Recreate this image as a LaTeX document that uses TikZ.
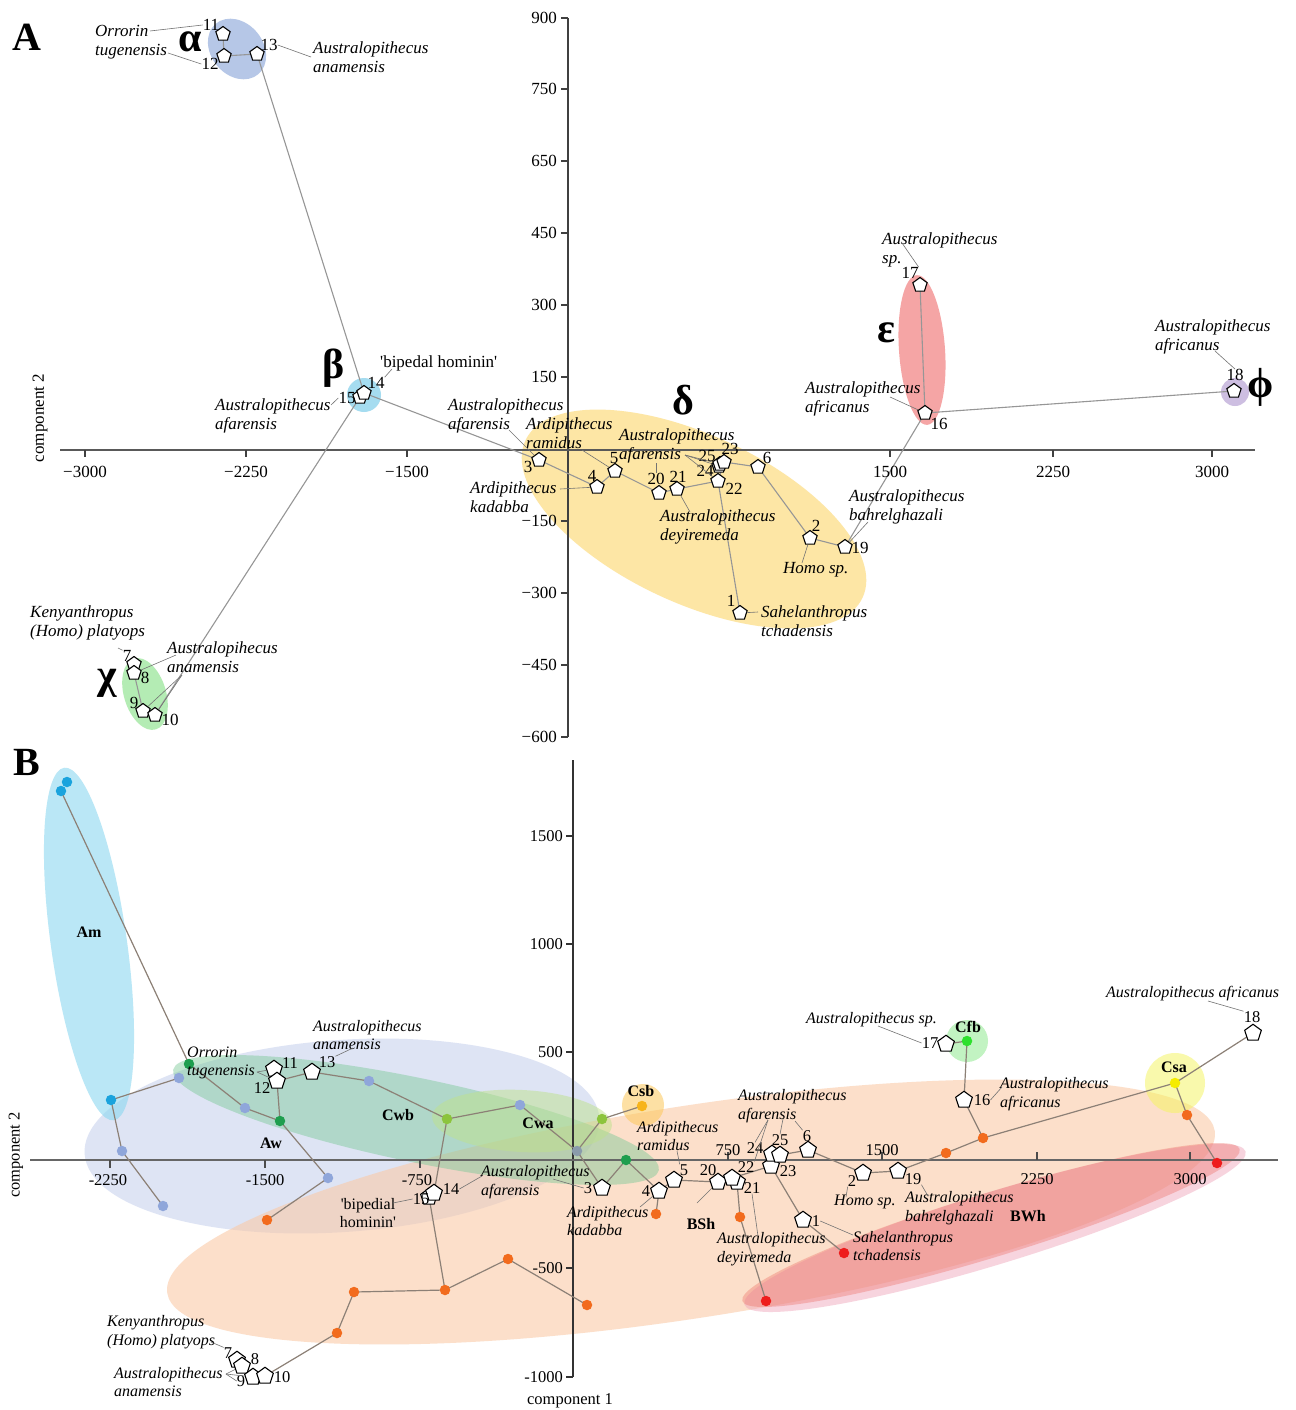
\documentclass[tikz,border=0pt]{standalone}
\usepackage{fontspec}
\setmainfont{Liberation Serif}
\newfontfamily\qfont{Liberation Serif}[Ligatures=TeXOff]
\usetikzlibrary{shapes.geometric}
\pgfdeclarelayer{ell}
\pgfdeclarelayer{bg}
\pgfsetlayers{ell,bg,main}
\definecolor{cAlpha}{RGB}{182,199,231}
\definecolor{cBeta}{RGB}{165,220,240}
\definecolor{cDelta}{RGB}{253,230,165}
\definecolor{cEps}{RGB}{245,165,165}
\definecolor{cPhi}{RGB}{205,190,225}
\definecolor{cChi}{RGB}{180,236,180}
\definecolor{eAm}{RGB}{140,215,240}
\definecolor{eAw}{RGB}{200,210,238}
\definecolor{eBSh}{RGB}{250,202,168}
\definecolor{eCwb}{RGB}{120,200,150}
\definecolor{eCwa}{RGB}{190,225,140}
\definecolor{eCsb}{RGB}{252,200,90}
\definecolor{eBWh}{RGB}{235,95,85}
\definecolor{ePink}{RGB}{240,170,190}
\definecolor{eCfb}{RGB}{120,230,120}
\definecolor{eCsa}{RGB}{245,245,90}
\definecolor{dAm}{RGB}{26,163,221}
\definecolor{dAw}{RGB}{143,166,218}
\definecolor{dG}{RGB}{30,158,78}
\definecolor{dLG}{RGB}{140,196,60}
\definecolor{dGr}{RGB}{138,155,171}
\definecolor{dCsb}{RGB}{247,180,27}
\definecolor{dO}{RGB}{242,107,29}
\definecolor{dR}{RGB}{238,28,28}
\definecolor{dCfb}{RGB}{46,224,46}
\definecolor{dCsa}{RGB}{245,236,0}
\definecolor{edgeA}{RGB}{150,150,150}
\definecolor{edgeB}{RGB}{140,128,118}
\newcommand{\sq}{{\qfont '}}
\begin{document}
\begin{tikzpicture}[x=1pt,y=-1pt,
  pA/.style={regular polygon, regular polygon sides=5, draw=black, fill=white, line width=1.1pt, minimum size=15pt, inner sep=0pt},
  pB/.style={pA, minimum size=17.5pt},
  dot/.style={circle, inner sep=0pt, minimum size=10.5pt},
  labA/.style={font=\fontsize{17}{19.5}\selectfont\itshape, align=left, inner sep=0pt, anchor=west},
  labB/.style={font=\fontsize{16}{18.5}\selectfont\itshape, align=left, inner sep=0pt, anchor=west},
  numA/.style={font=\fontsize{17}{17}\selectfont, inner sep=0pt},
  numB/.style={font=\fontsize{16.5}{16.5}\selectfont, inner sep=0pt},
  grk/.style={font=\fontsize{42}{42}\selectfont\bfseries, inner sep=0pt},
  grp/.style={font=\fontsize{16}{16}\selectfont\bfseries, inner sep=0pt},
  edA/.style={draw=edgeA, line width=1.1pt},
  edB/.style={draw=edgeB, line width=1.2pt},
  lead/.style={draw=black!55, line width=0.6pt},
  axA/.style={draw=black!75, line width=1.3pt},
  eo/.style={fill opacity=0.6}
]
\useasboundingbox (0,0) rectangle (1295,1410);

% ================= ellipses =================
\begin{pgfonlayer}{ell}
\fill[white] (0,0) rectangle (1295,1410);
% panel A
\fill[cAlpha, rotate around={-50:(237,49)}] (237,49) ellipse [x radius=33, y radius=26];
\fill[cBeta] (364,395) circle [radius=17];
\fill[cDelta, rotate around={-25:(694,519)}] (694,519) ellipse [x radius=186, y radius=84];
\fill[cEps, rotate around={4:(922,350)}] (922,350) ellipse [x radius=23, y radius=75];
\fill[cPhi] (1235,392) circle [radius=14];
\fill[cChi, rotate around={-73:(145,694)}] (145,694) ellipse [x radius=37, y radius=21];
% panel B
\fill[eAw, eo, rotate around={4:(342,1136)}] (342,1136) ellipse [x radius=258, y radius=96];
\fill[eAm, eo, rotate around={8:(89,944)}] (89,944) ellipse [x radius=38, y radius=178];
\fill[eBSh, eo, rotate around={8.8:(691,1212)}] (691,1212) ellipse [x radius=530, y radius=106];
\fill[eCwb, fill opacity=0.45, rotate around={-11.7:(416,1120)}] (416,1120) ellipse [x radius=248, y radius=42];
\fill[eCwa, fill opacity=0.5, rotate around={-3:(522,1121)}] (522,1121) ellipse [x radius=90, y radius=31];
\fill[eCsb, fill opacity=0.55] (643,1105) circle [radius=21];
\fill[ePink, fill opacity=0.5, rotate around={17:(995,1228)}] (995,1228) ellipse [x radius=262, y radius=36];
\fill[eBWh, fill opacity=0.32, rotate around={17:(991,1225)}] (991,1225) ellipse [x radius=260, y radius=32];
\fill[eCfb, fill opacity=0.45] (967,1041) circle [radius=21];
\fill[eCsa, fill opacity=0.5] (1175,1083) circle [radius=30];
\end{pgfonlayer}

% ================= panel A =================
\node[font=\fontsize{40}{40}\selectfont\bfseries, inner sep=0pt] (LA) at (27,37) {A};
\begin{pgfonlayer}{bg}
\draw[axA] (568,18) -- (568,737);
\draw[draw=black!65, line width=1.8pt] (60,450) -- (1255,450);
\foreach \v/\yy in {900/18, 750/89, 650/161, 450/233, 300/305, 150/377, −150/521, −300/593, −450/665, −600/737}{
  \draw[axA] (561,\yy) -- (568,\yy);
}
\foreach \v/\xx in {−3000/85, −2250/246, −1500/407, 1500/890, 2250/1053, 3000/1212}{
  \draw[axA] (\xx,450) -- (\xx,457);
}
\end{pgfonlayer}
\foreach \v/\yy in {900/18, 750/89, 650/161, 450/233, 300/305, 150/377, −150/521, −300/593, −450/665, −600/737}{
  \node[numA, anchor=east] (tya\yy) at (557,\yy) {\v};
}
\foreach \v/\xx in {−3000/85, −2250/246, −1500/407, 1500/890, 2250/1053, 3000/1212}{
  \node[numA] (txa\xx) at (\xx,472) {\v};
}
\node[numA, rotate=90] (c2A) at (40,418) {component 2};

% greek labels
\node[grk] (gAlpha) at (190,42) {α};
\node[grk] (gBeta) at (334,368) {β};
\node[grk] (gDelta) at (683,400) {δ};
\node[grk] (gEps) at (886,333) {ε};
\node[grk] (gPhi) at (1261,387) {ϕ};
\node[grk] (gChi) at (107,683) {χ};

% pentagons A
\node[pA] (a11) at (223,34) {};
\node[pA] (a12) at (224,56) {};
\node[pA] (a13) at (257,54) {};
\node[pA] (a15) at (360,397) {};
\node[pA] (a14) at (364,393) {};
\node[pA] (a3) at (539,460) {};
\node[pA] (a4) at (597,487) {};
\node[pA] (a5) at (615,471) {};
\node[pA] (a20) at (659,493) {};
\node[pA] (a21) at (677,489) {};
\node[pA] (a22) at (718,481) {};
\node[pA] (a24) at (719,466) {};
\node[pA] (a25) at (720,464) {};
\node[pA] (a23) at (724,462) {};
\node[pA] (a6) at (758,467) {};
\node[pA] (a2) at (810,538) {};
\node[pA] (a19) at (845,547) {};
\node[pA] (a1) at (740,613) {};
\node[pA] (a16) at (925,413) {};
\node[pA] (a17) at (920,285) {};
\node[pA] (a18) at (1234,391) {};
\node[pA] (a7) at (134,664) {};
\node[pA] (a8) at (134,673) {};
\node[pA] (a9) at (143,711) {};
\node[pA] (a10) at (155,715) {};

\begin{pgfonlayer}{bg}
\draw[edA] (a11.center) -- (a12.center) -- (a13.center) -- (a14.center) -- (a3.center) -- (a4.center) -- (a5.center) -- (a20.center) -- (a21.center) -- (a22.center) -- (a23.center) -- (a6.center) -- (a2.center) -- (a19.center) -- (a16.center) -- (a17.center);
\draw[edA] (a16.center) -- (a18.center);
\draw[edA] (a22.center) -- (a1.center);
\draw[edA] (a15.center) -- (a10.center);
\draw[edA] (a8.center) -- (a9.center) -- (a10.center);
\end{pgfonlayer}

% numbers A
\node[numA] (n11) at (211,25) {11};
\node[numA] (n12) at (210,64) {12};
\node[numA] (n13) at (269,45) {13};
\node[numA] (n14) at (376,383) {14};
\node[numA] (n15) at (347,398) {15};
\node[numA] (n3) at (528,467) {3};
\node[numA] (n4) at (592,476) {4};
\node[numA] (n5) at (614,458) {5};
\node[numA] (n20) at (656,479) {20};
\node[numA] (n21) at (678,477) {21};
\node[numA] (n25) at (707,456) {25};
\node[numA] (n23) at (730,449) {23};
\node[numA] (n24) at (705,471) {24};
\node[numA] (n22) at (734,489) {22};
\node[numA] (n6) at (767,458) {6};
\node[numA] (n2) at (816,526) {2};
\node[numA] (n19) at (860,548) {19};
\node[numA] (n1) at (731,601) {1};
\node[numA] (n17) at (910,273) {17};
\node[numA] (n16) at (939,424) {16};
\node[numA] (n18) at (1235,375) {18};
\node[numA] (n7) at (127,656) {7};
\node[numA] (n8) at (145,678) {8};
\node[numA] (n9) at (134,703) {9};
\node[numA] (n10) at (170,720) {10};

% texts A
\node[labA] (tA1) at (95,42) {Orrorin\\tugenensis};
\node[labA] (tA2) at (313,57) {Australopithecus\\anamensis};
\node[numA, anchor=west] (tA3) at (380,363) {\sq bipedal hominin\sq};
\node[labA] (tA4) at (215,416) {Australopithecus\\afarensis};
\node[labA] (tA5) at (448,416) {Australopithecus\\afarensis};
\node[labA] (tA6) at (526,433) {Ardipithecus\\ramidus};
\node[labA] (tA7) at (470,497) {Ardipithecus\\kadabba};
\node[labA] (tA8) at (619,446) {Australopithecus\\afarensis};
\node[labA] (tA9) at (660,527) {Australopithecus\\deyiremeda};
\node[labA] (tA10) at (783,570) {Homo sp.};
\node[labA] (tA11) at (761,621) {Sahelanthropus\\tchadensis};
\node[labA] (tA12) at (849,507) {Australopithecus\\bahrelghazali};
\node[labA] (tA13) at (882,250) {Australopithecus\\sp.};
\node[labA] (tA14) at (805,399) {Australopithecus\\africanus};
\node[labA] (tA15) at (1155,337) {Australopithecus\\africanus};
\node[labA] (tA16) at (30,623) {Kenyanthropus\\(Homo) platyops};
\node[labA] (tA17) at (167,657) {Australopihecus\\anamensis};

% leader lines A
\path (150,31) coordinate (k1) (168,53) coordinate (k2) (311,57) coordinate (k3)
      (331,405) coordinate (k4) (392,369) coordinate (k5) (509,430) coordinate (k6)
      (582,450) coordinate (k7) (560,489) coordinate (k8) (685,455) coordinate (k9)
      (656,463) coordinate (k10) (690,512) coordinate (k11) (802,563) coordinate (k12)
      (758,612) coordinate (k13) (868,522) coordinate (k14) (902,243) coordinate (k15)
      (890,397) coordinate (k16) (1215,351) coordinate (k17) (118,648) coordinate (k18)
      (176,655) coordinate (k19) (182,675) coordinate (k20);
\draw[lead] (k1) -- (n11.west);
\draw[lead] (k2) -- (n12.west);
\draw[lead] (n13.east) -- (k3);
\draw[lead] (n15.west) -- (k4);
\draw[lead] (n14.north east) -- (k5);
\draw[lead] (k6) -- (a3);
\draw[lead] (k7) -- (a5);
\draw[lead] (k8) -- (a4);
\draw[lead] (k9) -- (a25);
\draw[lead] (k9) -- (a24);
\draw[lead] (k9) -- (a22);
\draw[lead] (k10) -- (n20.north);
\draw[lead] (a21) -- (k11);
\draw[lead] (a2) -- (k12);
\draw[lead] (a1) -- (k13);
\draw[lead] (a19) -- (k14);
\draw[lead] (k15) -- (n17.north east);
\draw[lead] (k16) -- (a16);
\draw[lead] (k17) -- (n18.north);
\draw[lead] (k18) -- (n7.north west);
\draw[lead] (k19) -- (a8);
\draw[lead] (k20) -- (a9);
\draw[lead] (k20) -- (a10);

% ================= panel B =================
\node[font=\fontsize{40}{40}\selectfont\bfseries, inner sep=0pt] (LB) at (27,762) {B};
\begin{pgfonlayer}{bg}
\draw[draw=black!80, line width=1.5pt] (573,760) -- (573,1377);
\draw[draw=black!60, line width=2pt] (30,1160) -- (1278,1160);
\foreach \v/\yy in {1500/836, 1000/944, 500/1052, -500/1268, -1000/1377}{
  \draw[draw=black!80, line width=1.3pt] (566,\yy) -- (573,\yy);
}
\foreach \xx in {110, 265, 420}{
  \draw[draw=black!70, line width=1.3pt] (\xx,1160) -- (\xx,1168);
}
\foreach \xx in {728, 882, 1037, 1190}{
  \draw[draw=black!70, line width=1.3pt] (\xx,1152) -- (\xx,1160);
}
\end{pgfonlayer}
\foreach \v/\yy in {1500/836, 1000/944, 500/1052, -500/1268, -1000/1377}{
  \node[numB, anchor=east] (tyb\yy) at (563,\yy) {\v};
}
\foreach \v/\xx/\yy in {-2250/108/1180, -1500/265/1180, -750/417/1180, 750/728/1150, 1500/882/1150, 2250/1037/1179, 3000/1190/1179}{
  \node[numB] (txb\xx) at (\xx,\yy) {\v};
}
\node[numB, rotate=90] (c2B) at (16,1155) {component 2};
\node[numB] (c1B) at (570,1401) {component 1};

% group labels
\node[grp] (gAm) at (89,932) {Am};
\node[grp] (gAw) at (271,1143) {Aw};
\node[grp] (gCwb) at (398,1115) {Cwb};
\node[grp] (gCwa) at (538,1123) {Cwa};
\node[grp] (gCsb) at (641,1091) {Csb};
\node[grp] (gBSh) at (701,1224) {BSh};
\node[grp] (gBWh) at (1028,1216) {BWh};
\node[grp] (gCfb) at (968,1027) {Cfb};
\node[grp] (gCsa) at (1174,1067) {Csa};

% dots
\node[dot, fill=dAm] (am1) at (67,782) {};
\node[dot, fill=dAm] (am2) at (61,791) {};
\node[dot, fill=dAm] (am3) at (111,1100) {};
\node[dot, fill=dAw] (aw1) at (179,1078) {};
\node[dot, fill=dAw] (aw2) at (245,1108) {};
\node[dot, fill=dAw] (aw3) at (122,1151) {};
\node[dot, fill=dAw] (aw4) at (163,1206) {};
\node[dot, fill=dAw] (aw5) at (328,1178) {};
\node[dot, fill=dAw] (aw6) at (369,1081) {};
\node[dot, fill=dAw] (aw7) at (520,1105) {};
\node[dot, fill=dG] (g1) at (189,1064) {};
\node[dot, fill=dG] (g2) at (280,1121) {};
\node[dot, fill=dG] (g3) at (626,1160) {};
\node[dot, fill=dLG] (lg1) at (447,1119) {};
\node[dot, fill=dLG] (lg2) at (602,1119) {};
\node[dot, fill=dGr] (gr) at (577,1151) {};
\node[dot, fill=dCsb] (csb) at (642,1106) {};
\node[dot, fill=dO] (o1) at (267,1220) {};
\node[dot, fill=dO] (o2) at (445,1290) {};
\node[dot, fill=dO] (o3) at (508,1259) {};
\node[dot, fill=dO] (o4) at (587,1305) {};
\node[dot, fill=dO] (o5) at (354,1292) {};
\node[dot, fill=dO] (o6) at (337,1333) {};
\node[dot, fill=dO] (o7) at (656,1214) {};
\node[dot, fill=dO] (o8) at (740,1217) {};
\node[dot, fill=dO] (o9) at (946,1153) {};
\node[dot, fill=dO] (o10) at (983,1138) {};
\node[dot, fill=dO] (o11) at (1187,1115) {};
\node[dot, fill=dR] (r1) at (766,1301) {};
\node[dot, fill=dR] (r2) at (844,1253) {};
\node[dot, fill=dR] (r3) at (1217,1163) {};
\node[dot, fill=dCfb] (cfb) at (967,1041) {};
\node[dot, fill=dCsa] (csa) at (1175,1083) {};

% pentagons B
\node[pB] (b11) at (274,1069) {};
\node[pB] (b12) at (277,1081) {};
\node[pB] (b13) at (312,1072) {};
\node[pB] (b15) at (429,1197) {};
\node[pB] (b14) at (434,1193) {};
\node[pB] (b3) at (602,1188) {};
\node[pB] (b4) at (659,1191) {};
\node[pB] (b5) at (674,1180) {};
\node[pB] (b20) at (718,1182) {};
\node[pB] (b21) at (737,1182) {};
\node[pB] (b22) at (732,1178) {};
\node[pB] (b23) at (771,1166) {};
\node[pB] (b24) at (772,1154) {};
\node[pB] (b25) at (780,1155) {};
\node[pB] (b6) at (808,1150) {};
\node[pB] (b2) at (863,1173) {};
\node[pB] (b19) at (898,1171) {};
\node[pB] (b1) at (803,1220) {};
\node[pB] (b16) at (964,1100) {};
\node[pB] (b17) at (946,1044) {};
\node[pB] (b18) at (1253,1033) {};
\node[pB] (b7) at (237,1360) {};
\node[pB] (b8) at (242,1366) {};
\node[pB] (b9) at (253,1377) {};
\node[pB] (b10) at (265,1376) {};

\begin{pgfonlayer}{bg}
\draw[edB] (am2.center) -- (g1.center) -- (aw2.center) -- (g2.center) -- (b12.center) -- (b11.center);
\draw[edB] (aw1.center) -- (am3.center) -- (aw3.center) -- (aw4.center);
\draw[edB] (b12.center) -- (b13.center) -- (aw6.center) -- (lg1.center) -- (aw7.center) -- (gr.center) -- (lg2.center) -- (csb.center);
\draw[edB] (gr.center) -- (b3.center) -- (g3.center) -- (b4.center) -- (b5.center) -- (b20.center) -- (b22.center) -- (b23.center) -- (b25.center) -- (b6.center) -- (b2.center) -- (b19.center) -- (o9.center) -- (o10.center) -- (csa.center) -- (b18.center);
\draw[edB] (b4.center) -- (o7.center);
\draw[edB] (o10.center) -- (b16.center) -- (cfb.center) -- (b17.center);
\draw[edB] (csa.center) -- (o11.center) -- (r3.center);
\draw[edB] (b21.center) -- (o8.center) -- (r1.center);
\draw[edB] (b23.center) -- (b1.center) -- (r2.center);
\draw[edB] (g2.center) -- (aw5.center) -- (o1.center);
\draw[edB] (lg1.center) -- (b14.center);
\draw[edB] (b15.center) -- (o2.center) -- (o3.center) -- (o4.center);
\draw[edB] (o2.center) -- (o5.center) -- (o6.center) -- (b10.center);
\end{pgfonlayer}

% numbers B
\node[numB] (m11) at (290,1063) {11};
\node[numB] (m12) at (262,1088) {12};
\node[numB] (m13) at (327,1062) {13};
\node[numB] (m14) at (451,1189) {14};
\node[numB] (m15) at (421,1199) {15};
\node[numB] (m3) at (588,1188) {3};
\node[numB] (m4) at (646,1191) {4};
\node[numB] (m5) at (684,1170) {5};
\node[numB] (m20) at (708,1170) {20};
\node[numB] (m22) at (746,1167) {22};
\node[numB] (m21) at (752,1188) {21};
\node[numB] (m24) at (755,1148) {24};
\node[numB] (m25) at (780,1140) {25};
\node[numB] (m23) at (788,1171) {23};
\node[numB] (m6) at (807,1136) {6};
\node[numB] (m2) at (852,1181) {2};
\node[numB] (m19) at (913,1179) {19};
\node[numB] (m1) at (816,1221) {1};
\node[numB] (m17) at (930,1043) {17};
\node[numB] (m16) at (982,1100) {16};
\node[numB] (m18) at (1252,1017) {18};
\node[numB] (m7) at (228,1353) {7};
\node[numB] (m8) at (255,1359) {8};
\node[numB] (m9) at (241,1381) {9};
\node[numB] (m10) at (282,1377) {10};

% texts B
\node[labB] (tB1) at (187,1063) {Orrorin\\tugenensis};
\node[labB] (tB2) at (313,1035) {Australopithecus\\anamensis};
\node[numB, align=center, font=\fontsize{16}{18.5}\selectfont] (tB3) at (368,1213) {\sq bipedial\\hominin\sq};
\node[labB] (tB4) at (481,1182) {Australopithecus\\afarensis};
\node[labB] (tB5) at (567,1221) {Ardipithecus\\kadabba};
\node[labB] (tB6) at (637,1136) {Ardipithecus\\ramidus};
\node[labB] (tB7) at (738,1106) {Australopithecus\\afarensis};
\node[labB] (tB8) at (717,1249) {Australopithecus\\deyiremeda};
\node[labB] (tB9) at (834,1202) {Homo sp.};
\node[labB] (tB10) at (853,1246) {Sahelanthropus\\tchadensis};
\node[labB] (tB11) at (905,1208) {Australopithecus\\bahrelghazali};
\node[labB] (tB12) at (806,1020) {Australopithecus sp.};
\node[labB] (tB13) at (1106,994) {Australopithecus africanus};
\node[labB] (tB14) at (1000,1094) {Australopithecus\\africanus};
\node[labB] (tB15) at (107,1332) {Kenyanthropus\\(Homo) platyops};
\node[labB] (tB16) at (114,1382) {Australopithecus\\anamensis};

% leader lines B
\path (257,1072) coordinate (q1) (353,1048) coordinate (q2) (393,1203) coordinate (q3)
      (482,1176) coordinate (q4) (553,1179) coordinate (q5) (640,1207) coordinate (q6)
      (677,1151) coordinate (q7) (768,1120) coordinate (q8) (783,1119) coordinate (q9)
      (795,1121) coordinate (q10) (758,1236) coordinate (q11) (697,1203) coordinate (q12)
      (846,1197) coordinate (q13) (853,1235) coordinate (q14) (928,1196) coordinate (q15)
      (878,1026) coordinate (q16) (1208,1001) coordinate (q17) (1002,1087) coordinate (q18)
      (211,1342) coordinate (q19) (226,1374) coordinate (q20);
\draw[lead] (q1) -- (b11);
\draw[lead] (q1) -- (b12);
\draw[lead] (m13.north east) -- (q2);
\draw[lead] (q3) -- (m15.west);
\draw[lead] (m14.east) -- (q4);
\draw[lead] (q5) -- (m3.west);
\draw[lead] (q6) -- (b4);
\draw[lead] (q7) -- (m5.north west);
\draw[lead] (q8) -- (m24.north);
\draw[lead] (q8) -- (m22.north east);
\draw[lead] (q9) -- (m25.north);
\draw[lead] (q10) -- (m6.north west);
\draw[lead] (m21.south) -- (q11);
\draw[lead] (b20) -- (q12);
\draw[lead] (m2.south west) -- (q13);
\draw[lead] (m1.east) -- (q14);
\draw[lead] (m19.south east) -- (q15);
\draw[lead] (q16) -- (m17.west);
\draw[lead] (q17) -- (m18.north west);
\draw[lead] (m16.east) -- (q18);
\draw[lead] (q19) -- (m7.north west);
\draw[lead] (q20) -- (b8);
\draw[lead] (q20) -- (b9);
\draw[lead] (q20) -- (m9.west);
\end{tikzpicture}
\end{document}
